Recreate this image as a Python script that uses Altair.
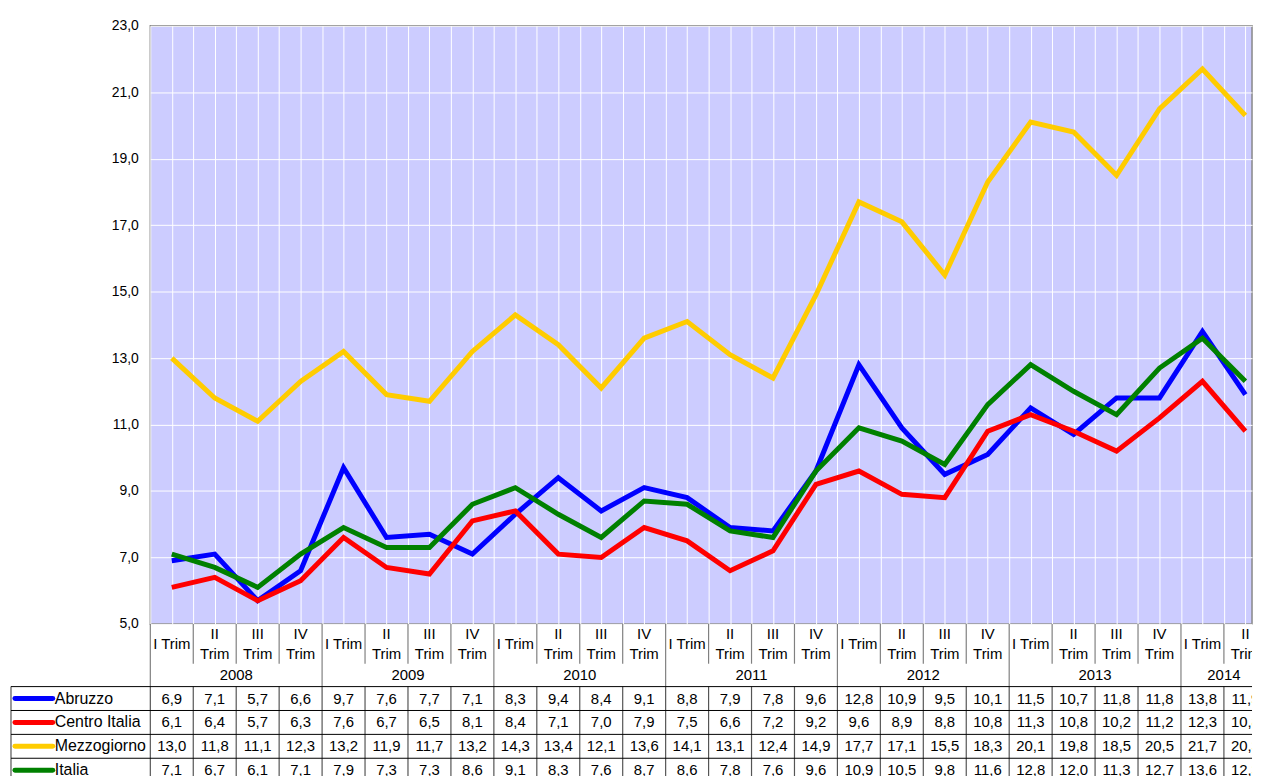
import altair as alt
import pandas as pd

# ---------------- data ----------------
quarters = ["I Trim", "II\nTrim", "III\nTrim", "IV\nTrim"]
years = ["2008", "2009", "2010", "2011", "2012", "2013", "2014"]
year_quarters = [4, 4, 4, 4, 4, 4, 2]

series_names = ["Abruzzo", "Centro Italia", "Mezzogiorno", "Italia"]
series_colors = ["#0000FF", "#FF0000", "#FFCC00", "#008000"]

abruzzo = [6.9, 7.1, 5.7, 6.6, 9.7, 7.6, 7.7, 7.1, 8.3, 9.4, 8.4, 9.1, 8.8,
           7.9, 7.8, 9.6, 12.8, 10.9, 9.5, 10.1, 11.5, 10.7, 11.8, 11.8, 13.8, 11.9]
centro = [6.1, 6.4, 5.7, 6.3, 7.6, 6.7, 6.5, 8.1, 8.4, 7.1, 7.0, 7.9, 7.5,
          6.6, 7.2, 9.2, 9.6, 8.9, 8.8, 10.8, 11.3, 10.8, 10.2, 11.2, 12.3, 10.8]
mezzogiorno = [13.0, 11.8, 11.1, 12.3, 13.2, 11.9, 11.7, 13.2, 14.3, 13.4, 12.1, 13.6, 14.1,
               13.1, 12.4, 14.9, 17.7, 17.1, 15.5, 18.3, 20.1, 19.8, 18.5, 20.5, 21.7, 20.3]
italia = [7.1, 6.7, 6.1, 7.1, 7.9, 7.3, 7.3, 8.6, 9.1, 8.3, 7.6, 8.7, 8.6,
          7.8, 7.6, 9.6, 10.9, 10.5, 9.8, 11.6, 12.8, 12.0, 11.3, 12.7, 13.6, 12.3]
series_values = [abruzzo, centro, mezzogiorno, italia]

y_ticks = [5, 7, 9, 11, 13, 15, 17, 19, 21, 23]

# ---------------- layout constants ----------------
N = len(abruzzo)
CAT_W = 43.15
PLOT_W = 1107                # visible part (the original is cut at the right edge)
XMAX = PLOT_W / CAT_W
PLOT_H = 601
FONT = "Liberation Sans"

HDR_BOT = 40
YEAR_BOT = 63
ROW_H = 24
TABLE_H = YEAR_BOT + ROW_H * len(series_names)
LEG_LEFT = -140 / CAT_W
SW_L = -136 / CAT_W
SW_R = -98 / CAT_W
LBL_X = -96 / CAT_W


def fmt(v):
    return f"{v:.1f}".replace(".", ",")


# ---------------- line chart ----------------
rows = []
for r, (name, vals) in enumerate(zip(series_names, series_values)):
    for i, v in enumerate(vals):
        rows.append({"x": i + 0.5, "series": name, "value": v, "order": r})
line_df = pd.DataFrame(rows)

color_scale = alt.Scale(domain=series_names, range=series_colors)
xs = alt.Scale(domain=[0, XMAX], nice=False, zero=False)

grid_vals = [k / 2 for k in range(2 * N + 1) if k / 2 <= XMAX]

lines = alt.Chart(line_df).mark_line(strokeWidth=5, strokeJoin="miter").encode(
    x=alt.X("x:Q", scale=xs,
            axis=alt.Axis(values=grid_vals, labels=False, ticks=False, tickSize=0,
                          labelPadding=0, minExtent=0, maxExtent=0, offset=0,
                          domain=False, grid=True, gridColor="white", gridWidth=1,
                          gridOpacity=1, title=None)),
    y=alt.Y("value:Q", scale=alt.Scale(domain=[5, 23], nice=False, zero=False),
            axis=alt.Axis(values=y_ticks, ticks=False, domain=False, grid=True,
                          gridColor="white", gridWidth=1, gridOpacity=1,
                          labelExpr="replace(format(datum.value, '.1f'), '.', ',')",
                          labelFont=FONT, labelFontSize=14, labelColor="#000",
                          labelPadding=12, title=None)),
    color=alt.Color("series:N", scale=color_scale, legend=None),
    detail="order:N",
).properties(
    width=PLOT_W, height=PLOT_H,
    view=alt.ViewBackground(fill="#CCCCFF", stroke="#888888", strokeWidth=1.5),
)

# ---------------- table ----------------
ys = alt.Scale(domain=[0, TABLE_H], reverse=True, nice=False, zero=False)

q_rows = []
k = 0
for yr, nq in zip(years, year_quarters):
    for q in range(nq):
        two_lines = "\n" in quarters[q]
        q_rows.append({"x": k + 0.5, "y": HDR_BOT / 4 if two_lines else HDR_BOT / 2,
                       "t": quarters[q]})
        k += 1
q_df = pd.DataFrame(q_rows)

y_rows = []
start = 0
for yr, nq in zip(years, year_quarters):
    y_rows.append({"x": start + nq / 2, "y": (HDR_BOT + YEAR_BOT) / 2, "t": yr})
    start += nq
yr_df = pd.DataFrame(y_rows)

v_rows = []
for r, (name, vals) in enumerate(zip(series_names, series_values)):
    yc = YEAR_BOT + ROW_H * r + ROW_H / 2
    for i, v in enumerate(vals):
        v_rows.append({"x": i + 0.5, "y": yc, "t": fmt(v)})
val_df = pd.DataFrame(v_rows)

leg_df = pd.DataFrame([
    {"series": name, "x": SW_L, "x2": SW_R, "lx": LBL_X,
     "y": YEAR_BOT + ROW_H * r + ROW_H / 2}
    for r, name in enumerate(series_names)
])

boundaries = []
start = 0
for nq in year_quarters:
    boundaries.append(start)
    start += nq

hdr_segs = []
vert_segs = []
horiz_segs = []
for i in range(N + 1):
    if i > XMAX:
        continue
    if i in boundaries:
        hdr_segs.append({"x": i, "x2": i, "y": 0, "y2": YEAR_BOT})
    else:
        hdr_segs.append({"x": i, "x2": i, "y": 0, "y2": HDR_BOT})
    vert_segs.append({"x": i, "x2": i, "y": YEAR_BOT, "y2": TABLE_H})
vert_segs.append({"x": LEG_LEFT, "x2": LEG_LEFT, "y": YEAR_BOT, "y2": TABLE_H})
for r in range(len(series_names) + 1):
    yy = YEAR_BOT + ROW_H * r
    horiz_segs.append({"x": LEG_LEFT, "x2": XMAX, "y": yy, "y2": yy})

enc_xy = dict(x=alt.X("x:Q", scale=xs, axis=None), y=alt.Y("y:Q", scale=ys, axis=None))

hdr_rules = alt.Chart(pd.DataFrame(hdr_segs)).mark_rule(color="#808080", strokeWidth=1.2).encode(
    x2="x2:Q", y2="y2:Q", **enc_xy)
vert_rules = alt.Chart(pd.DataFrame(vert_segs)).mark_rule(color="#555555", strokeWidth=1.2).encode(
    x2="x2:Q", y2="y2:Q", **enc_xy)
horiz_rules = alt.Chart(pd.DataFrame(horiz_segs)).mark_rule(color="#000000", strokeWidth=1).encode(
    x2="x2:Q", y2="y2:Q", **enc_xy)

text_common = dict(font=FONT, color="#000", baseline="middle")

q_text = alt.Chart(q_df).mark_text(align="center", lineHeight=20, lineBreak="\n", fontSize=15,
                                   clip=True, **text_common).encode(text="t:N", **enc_xy)
yr_text = alt.Chart(yr_df).mark_text(align="center", clip=True, fontSize=15, **text_common).encode(
    text="t:N", **enc_xy)
val_text = alt.Chart(val_df).mark_text(align="center", clip=True, fontSize=15, **text_common).encode(
    text="t:N", **enc_xy)

swatch = alt.Chart(leg_df).mark_rule(strokeWidth=5, strokeCap="round").encode(
    x=alt.X("x:Q", scale=xs, axis=None), x2="x2:Q",
    y=alt.Y("y:Q", scale=ys, axis=None),
    color=alt.Color("series:N", scale=color_scale, legend=None))
leg_text = alt.Chart(leg_df).mark_text(align="left", fontSize=16, **text_common).encode(
    x=alt.X("lx:Q", scale=xs, axis=None), y=alt.Y("y:Q", scale=ys, axis=None),
    text="series:N")

table = alt.layer(hdr_rules, vert_rules, horiz_rules, q_text, yr_text, val_text,
                  swatch, leg_text).properties(
    width=PLOT_W, height=TABLE_H,
    view=alt.ViewBackground(fill=None, stroke=None),
)

chart = alt.vconcat(lines, table, spacing=0, bounds="flush").properties(
    padding={"left": 2, "top": 8, "right": 0, "bottom": 0},
    background="white",
).configure(font=FONT)

chart.save("out.html", embed_options={"renderer": "svg", "actions": False})
